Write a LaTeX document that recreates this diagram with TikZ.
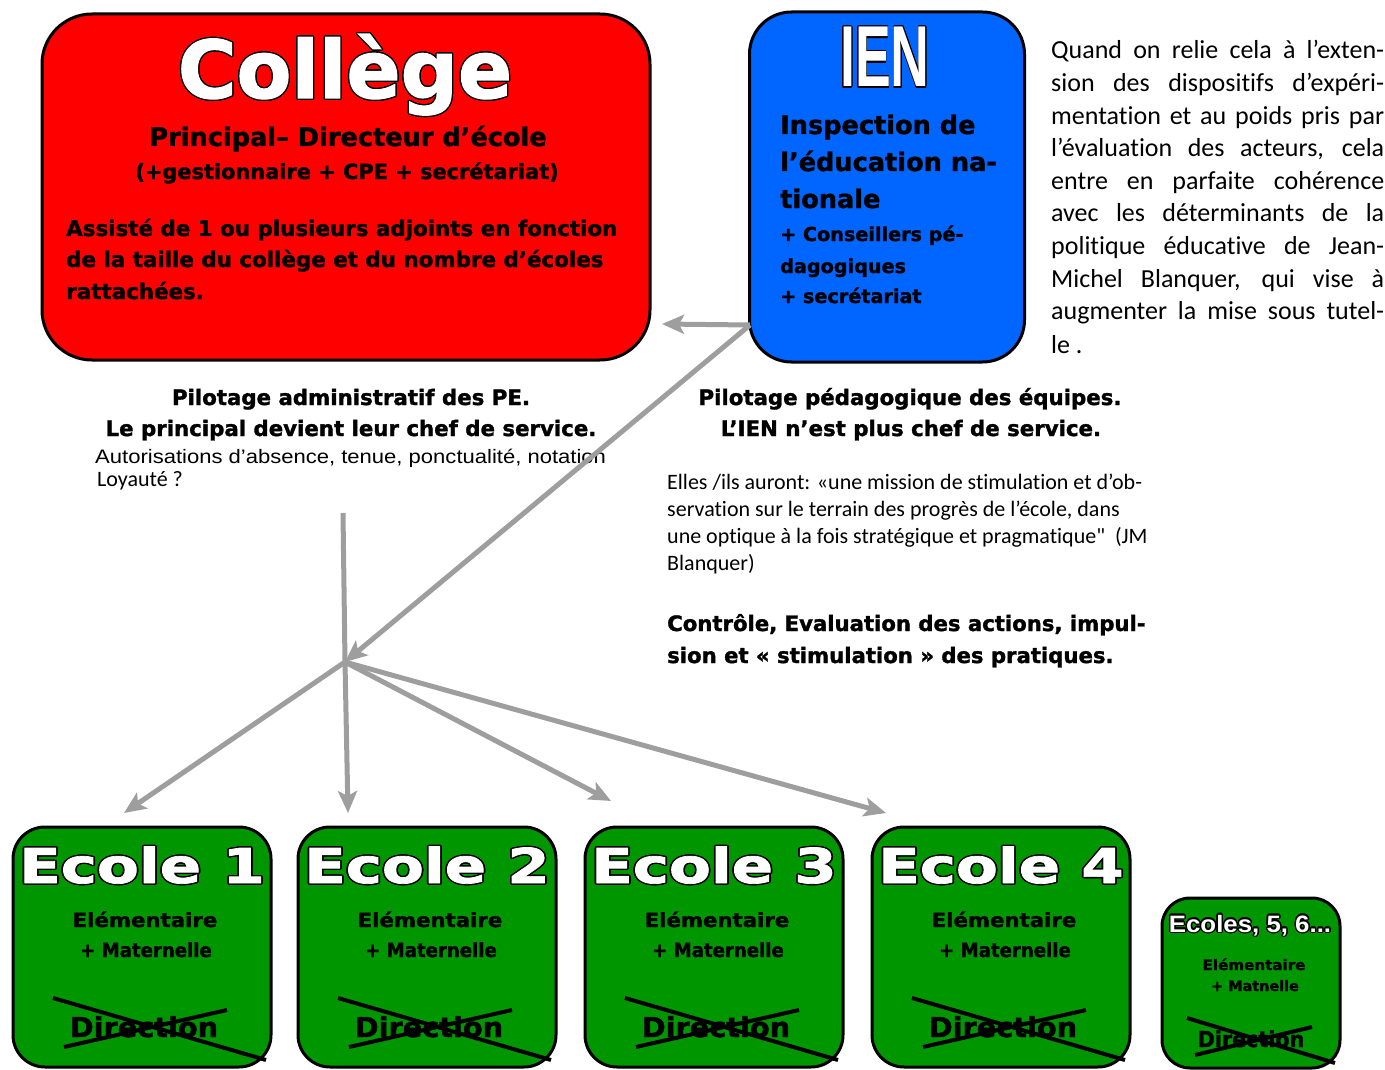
\documentclass[tikz,border=0pt]{standalone}
\usepackage{fontspec}
\usepackage{graphicx}
\usepackage{contour}
\usetikzlibrary{arrows.meta}
\setmainfont{Liberation Sans}
\newfontfamily\heavyfont{DejaVu Sans}[BoldFeatures={FakeBold=1.5}]
\newfontfamily\calfont{Carlito}[Ligatures=NoCommon]
\definecolor{collegered}{RGB}{255,0,0}
\definecolor{ienblue}{RGB}{0,102,255}
\definecolor{ecolegreen}{RGB}{0,150,0}
\definecolor{arrowgray}{RGB}{158,158,158}
\contourlength{1.3pt}
\newcommand{\hv}[1]{\heavyfont\bfseries\fontsize{#1}{#1}\selectfont}
\newcommand{\nb}[1]{\normalfont\bfseries\fontsize{#1}{#1}\selectfont}
\newcommand{\stretchx}[2]{\scalebox{#1}[1]{#2}}
\newcommand{\whitetitle}[1]{\textcolor{white}{\contour{black}{#1}}}

\begin{document}
\begin{tikzpicture}[x=1pt,y=-1pt,
  box/.style={draw=black, line width=3pt},
  txt/.style={inner sep=0pt, anchor=base},
  ltxt/.style={inner sep=0pt, anchor=base west},
  link/.style={draw=arrowgray, line width=5pt, -{Stealth[length=22pt,width=19pt,inset=5pt]}},
  cross/.style={draw=black, line width=4pt}]
\useasboundingbox (0,0) rectangle (1385,1070);

% Collège
\node[box, fill=collegered, rounded corners=50pt, minimum width=608pt, minimum height=346pt] (college) at (346,187) {};
\node[txt] (collegetitle) at (345,98) {\hv{80}\whitetitle{Collège}};
\node[txt] at (348,146) {\hv{25.6}Principal– Directeur d’école};
\node[txt] at (347,179) {\hv{20.9}(+gestionnaire + CPE + secrétariat)};
\node[ltxt] at (66,236) {\hv{21.4}Assisté de 1 ou plusieurs adjoints en fonction};
\node[ltxt] at (66,267) {\hv{21.4}de la taille du collège et du nombre d’écoles};
\node[ltxt] at (66,299) {\hv{21.4}rattachées.};

% IEN
\node[box, fill=ienblue, rounded corners=42pt, minimum width=275pt, minimum height=350pt] (ien) at (887,187) {};
\node[txt] (ientitle) at (885,87) {\nb{86.6}\stretchx{0.62}{\whitetitle{IEN}}};
\node[ltxt] at (780,134) {\hv{25.6}Inspection de};
\node[ltxt] at (780,171) {\hv{25.6}l’éducation na-};
\node[ltxt] at (780,208) {\hv{25.6}tionale};
\node[ltxt] at (780,241) {\hv{19.2}+ Conseillers pé-};
\node[ltxt] at (780,273) {\hv{19.2}dagogiques};
\node[ltxt] at (780,303) {\hv{19.2}+ secrétariat};

% texte de droite
\foreach \txtline [count=\i from 0] in {{Quand on relie cela à l’exten-},{sion des dispositifs d’expéri-},{mentation et au poids pris par},{l’évaluation des acteurs, cela},{entre en parfaite cohérence},{avec les déterminants de la},{politique éducative de Jean-},{Michel Blanquer, qui vise à},{augmenter la mise sous tutel-}}
  \node[ltxt, font=\calfont\fontsize{26}{30}\selectfont] at (1051,{59+32.6*\i}) {\makebox[333pt][s]{\txtline}};
\node[ltxt, font=\calfont\fontsize{26}{30}\selectfont] (quoteend) at (1051,353) {le .};

% pilotage
\node[txt] at (351,405) {\hv{21.3}Pilotage administratif des PE.};
\node[txt] at (351,436) {\hv{21.3}Le principal devient leur chef de service.};
\node[ltxt] at (95,463) {\stretchx{1.13}{\fontsize{19.5}{20}\selectfont Autorisations d’absence, tenue, ponctualité, notation}};
\node[ltxt] at (97,486) {\calfont\fontsize{22}{22}\selectfont Loyauté ?};
\node[txt] at (910,405) {\hv{21.3}Pilotage pédagogique des équipes.};
\node[txt] at (911,436) {\hv{21.3}L’IEN n’est plus chef de service.};
\foreach \txtline [count=\i from 0] in {{Elles /ils auront: «une mission de stimulation et d’ob-},{servation sur le terrain des progrès de l’école, dans},{une optique à la fois stratégique et pragmatique"\ \ (JM},{Blanquer)}}
  \node[ltxt, font=\calfont\fontsize{22}{26}\selectfont] at (667,{489+27*\i}) {\txtline};
\node[ltxt] at (667,631) {\hv{21.2}Contrôle, Evaluation des actions, impul-};
\node[ltxt] at (667,663) {\hv{21.2}sion et « stimulation » des pratiques.};

% écoles
\foreach \n/\cx in {1/142,2/427,3/714,4/1001} {
  \node[box, fill=ecolegreen, rounded corners=32pt, minimum width=258pt, minimum height=240pt] (ecole\n) at (\cx,947) {};
  \node[txt] (titre\n) at (\cx,883) {\hv{48}\stretchx{1.27}{\whitetitle{Ecole \n}}};
  \node[txt] at (\cx+3,927) {\hv{19.5}\stretchx{1.09}{Elémentaire}};
  \node[txt] at (\cx+4,957) {\hv{19.5}\stretchx{0.93}{+ Maternelle}};
  \node[txt] at (\cx+2,1037) {\hv{27.4}\stretchx{1.05}{Direction}};
  \draw[cross] (\cx-89,998) -- (\cx+124,1060);
  \draw[cross] (\cx-78,1047) -- (\cx+85,1010);
}
\node[box, fill=ecolegreen, rounded corners=28pt, minimum width=178pt, minimum height=170pt] (ecoles) at (1251,983) {};
\node[txt] (titres) at (1250,932) {\nb{23.7}\stretchx{1.09}{\whitetitle{Ecoles, 5, 6...}}};
\node[txt] at (1254,970) {\hv{14.4}\stretchx{1.05}{Elémentaire}};
\node[txt] at (1255,991) {\hv{14.4}+ Matnelle};
\node[txt] at (1251,1047) {\hv{22}\stretchx{0.94}{Direction}};
\draw[cross] (1187,1018) -- (1335,1063);
\draw[cross] (1195,1055) -- (1312,1027);

% flèches
\coordinate (hub) at (345,662);
\coordinate (stem) at (343,513);
\coordinate (ienfoot) at (750,325);
\coordinate (collegeside) at (662,324);
\coordinate (t1) at (124,813);
\coordinate (t2) at (348,813);
\coordinate (t3) at (611,801);
\coordinate (t4) at (886,813);
\draw[link] (ienfoot) -- (collegeside);
\draw[link] (ienfoot) -- (hub);
\draw[draw=arrowgray, line width=5pt] (stem) -- (hub);
\foreach \t in {t1,t2,t3,t4}
  \draw[link] (hub) -- (\t);
\end{tikzpicture}
\end{document}
